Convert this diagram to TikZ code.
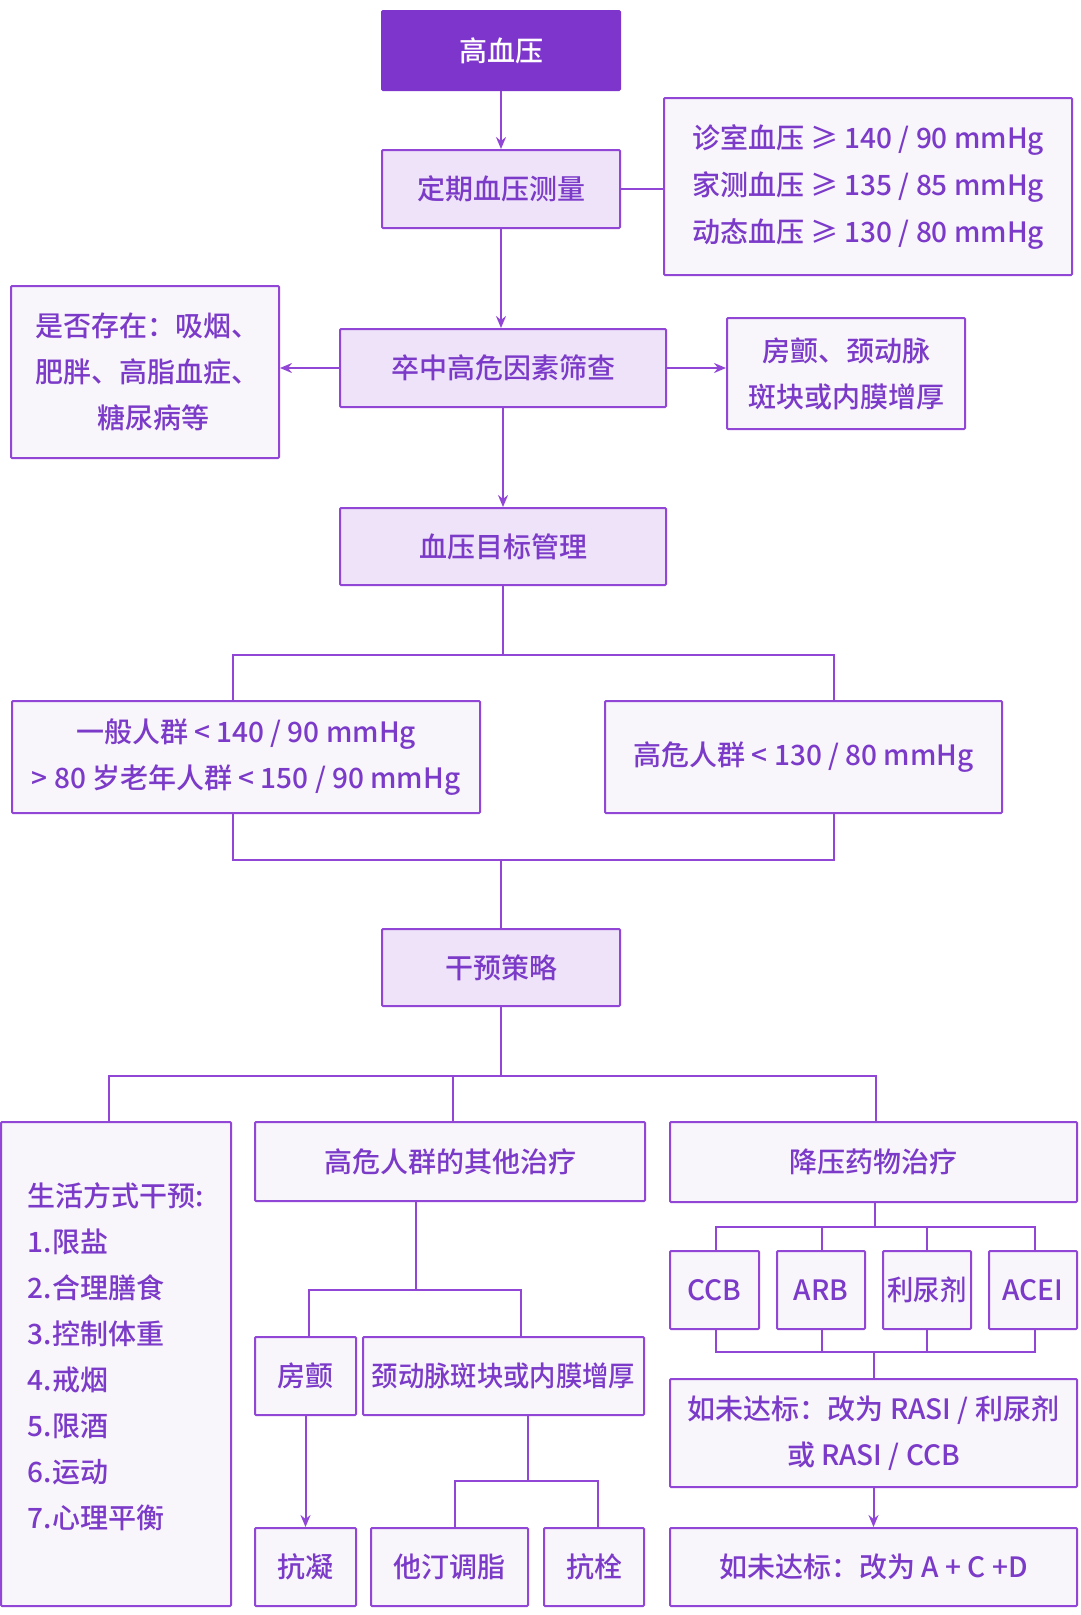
\documentclass[tikz,border=0pt]{standalone}
\usepackage{fontspec}
\setmainfont{Noto Sans CJK SC}[UprightFont={* Medium}]
\newfontfamily\cond{Noto Sans CJK SC}[UprightFont={* Medium},FakeStretch=0.94]
\usetikzlibrary{arrows.meta}
\definecolor{pline}{HTML}{9146D6}
\definecolor{ptext}{HTML}{7B3AC8}
\definecolor{phead}{HTML}{7E35CC}
\definecolor{pfill}{HTML}{EEE3F8}
\definecolor{pfillb}{HTML}{F8F5FB}
\begin{document}
\begin{tikzpicture}[x=1pt,y=-1pt,
  sz/.style n args={2}{minimum width=#1pt,minimum height=#2pt},
  box/.style={draw=pline, line width=2pt, fill=pfillb, text=ptext,
    font=\fontsize{28}{46}\selectfont, align=center, inner sep=0pt, rounded corners=1pt},
  mainbox/.style={box, fill=pfill},
  headbox/.style={box, fill=phead, draw=phead, text=white},
  conn/.style={draw=pline, line width=2pt},
  arr/.style={conn, -{Stealth[length=12pt,width=10pt,inset=4pt]}}]
\fill[white] (0,0) rectangle (1080,1615);
\useasboundingbox (0,0) rectangle (1080,1615);

% nodes
\node[headbox, sz={238}{79}] (top) at (501,50.5) {高血压};
\node[mainbox, sz={238}{78}] (meas) at (501,189) {定期血压测量};
\node[box, sz={408}{177}] (crit) at (868,186.5) {\begin{tabular}{@{}l@{}}诊室血压 ≥ 140 / 90 mmHg\\[1pt]家测血压 ≥ 135 / 85 mmHg\\[1pt]动态血压 ≥ 130 / 80 mmHg\end{tabular}};
\node[mainbox, sz={326}{78}] (screen) at (503,368) {卒中高危因素筛查};
\node[box, sz={268}{172}] (risk) at (145,372) {\hspace*{5pt}是否存在：吸烟、\\\hspace*{5pt}肥胖、高脂血症、\\\hspace*{16pt}糖尿病等};
\node[box, sz={238}{111}] (af1) at (846,373.5) {房颤、颈动脉\\斑块或内膜增厚};
\node[mainbox, sz={326}{77}] (target) at (503,546.5) {血压目标管理};
\node[box, sz={468}{112}] (gen) at (246,757) {一般人群 < 140 / 90 mmHg\\> 80 岁老年人群 < 150 / 90 mmHg};
\node[box, sz={397}{112}] (high) at (803.5,757) {高危人群 < 130 / 80 mmHg};
\node[mainbox, sz={238}{77}] (interv) at (501,967.5) {干预策略};
\node[box, sz={230}{484}] (life) at (116,1364) {\begin{tabular}{@{}l@{}}生活方式干预:\\1.限盐\\2.合理膳食\\3.控制体重\\4.戒烟\\5.限酒\\6.运动\\7.心理平衡\\[12pt]\end{tabular}};
\node[box, sz={390}{79}] (other) at (450,1161.5) {高危人群的其他治疗};
\node[box, sz={407}{80}] (drug) at (873.5,1162) {降压药物治疗};
\node[box, sz={89}{78}] (ccb) at (714.5,1290) {CCB};
\node[box, sz={88}{78}] (arb) at (821,1290) {ARB};
\node[box, sz={88}{78}] (diu) at (927,1290) {\cond 利尿剂};
\node[box, sz={88}{78}] (acei) at (1033,1290) {ACEI};
\node[box, sz={407}{108}] (fail1) at (873.5,1433) {如未达标：改为 RASI / 利尿剂\\或 RASI / CCB};
\node[box, sz={407}{78}] (fail2) at (873.5,1567) {如未达标：改为 A + C +D};
\node[box, sz={101}{78}] (af2) at (305.5,1376) {房颤};
\node[box, sz={281}{78}] (carotid) at (503.5,1376) {\cond 颈动脉斑块或内膜增厚};
\node[box, sz={101}{78}] (anticoag) at (305.5,1567) {抗凝};
\node[box, sz={157}{78}] (statin) at (449.5,1567) {他汀调脂};
\node[box, sz={100}{78}] (antiplt) at (594,1567) {抗栓};

% coordinates
\coordinate (gA) at (233,655);
\coordinate (hA) at (834,655);
\coordinate (gB) at (233,860);
\coordinate (hB) at (834,860);
\coordinate (iL) at (109,1076);
\coordinate (iM) at (453,1076);
\coordinate (iR) at (876,1076);
\coordinate (oT) at (416,1290);
\coordinate (oL) at (309,1290);
\coordinate (oR) at (521,1290);
\coordinate (cT) at (528,1481);
\coordinate (cL) at (455,1481);
\coordinate (cR) at (598,1481);
\coordinate (dT) at (875,1227);
\coordinate (d1) at (716,1227);
\coordinate (d2) at (822,1227);
\coordinate (d3) at (927,1227);
\coordinate (d4) at (1035,1227);
\coordinate (eT) at (874,1352);
\coordinate (e1) at (716,1352);
\coordinate (e2) at (822,1352);
\coordinate (e3) at (927,1352);
\coordinate (e4) at (1035,1352);

% connectors
\draw[arr] (top.south) -- (meas.north);
\draw[conn] (meas.east) -- (crit.west |- meas.east);
\draw[arr] (meas.south) -- (screen.north -| meas.south);
\draw[arr] (screen.west) -- (risk.east |- screen.west);
\draw[arr] (screen.east) -- (af1.west |- screen.east);
\draw[arr] (screen.south) -- (target.north);
\draw[conn] (target.south) -- (target.south |- gA);
\draw[conn] (gen.north -| gA) -- (gA) -- (hA) -- (high.north -| hA);
\draw[conn] (gen.south -| gB) -- (gB) -- (hB) -- (high.south -| hB);
\draw[conn] (interv.north |- gB) -- (interv.north);
\draw[conn] (interv.south) -- (interv.south |- iL);
\draw[conn] (life.north -| iL) -- (iL) -- (iR) -- (drug.north -| iR);
\draw[conn] (iM) -- (other.north -| iM);
\draw[conn] (other.south -| oT) -- (oT);
\draw[conn] (af2.north -| oL) -- (oL) -- (oR) -- (carotid.north -| oR);
\draw[arr] (af2.south) -- (anticoag.north);
\draw[conn] (carotid.south -| cT) -- (cT);
\draw[conn] (statin.north -| cL) -- (cL) -- (cR) -- (antiplt.north -| cR);
\draw[conn] (drug.south -| dT) -- (dT);
\draw[conn] (ccb.north -| d1) -- (d1) -- (d4) -- (acei.north -| d4);
\draw[conn] (arb.north -| d2) -- (d2);
\draw[conn] (diu.north -| d3) -- (d3);
\draw[conn] (ccb.south -| e1) -- (e1) -- (e4) -- (acei.south -| e4);
\draw[conn] (arb.south -| e2) -- (e2);
\draw[conn] (diu.south -| e3) -- (e3);
\draw[conn] (eT) -- (fail1.north -| eT);
\draw[arr] (fail1.south) -- (fail2.north);
\end{tikzpicture}
\end{document}
